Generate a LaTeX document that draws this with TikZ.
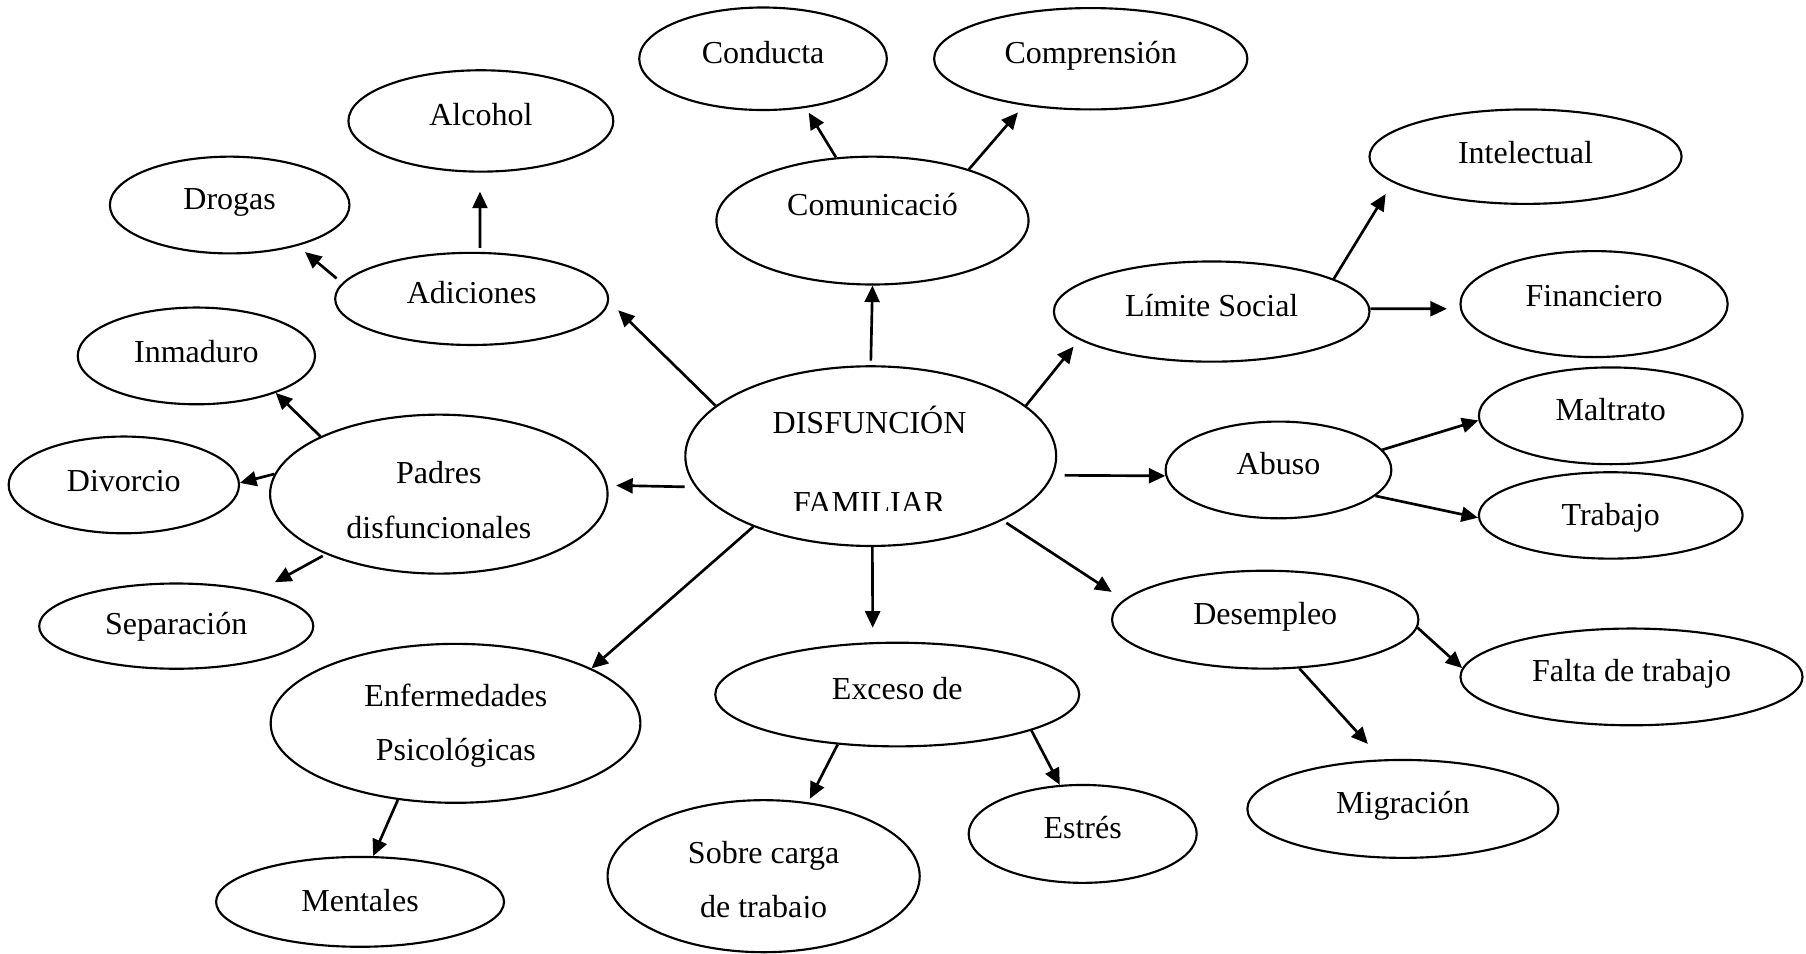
\documentclass[tikz,border=0pt]{standalone}
\usepackage{fontspec}
\setmainfont{Liberation Serif}
\usetikzlibrary{shapes.geometric,arrows.meta}

\begin{document}
\begin{tikzpicture}[x=0.432pt,y=-0.432pt,>={Triangle[length=6.2pt,width=5.6pt]},
  oval/.style 2 args={draw,ellipse,line width=0.8pt,inner sep=0pt,
    minimum width=#1*0.432pt,minimum height=#2*0.432pt,
    font=\fontsize{12}{14}\selectfont,text height=8.5pt,text depth=5pt},
  txt/.style={font=\fontsize{12}{14}\selectfont,inner sep=0pt,anchor=base},
  arr/.style={->,line width=1pt}]
  \useasboundingbox (0,0) rectangle (1568,828);

  % central node
  \node[oval={322}{156}] (disf) at (756,396) {};
  \node[txt] (disfa) at (755,376.2) {DISFUNCIÓN};
  \begin{scope}
    \clip (680,420) rectangle (835,442.8);
    \node[txt] (disfb) at (754.6,445.7) {FAMILIAR};
  \end{scope}

  % top
  \node[oval={215}{89}] (cond) at (662.5,51) {Conducta};
  \node[oval={272}{88}] (compr) at (947,51) {Comprensión};
  \node[oval={271}{111},text depth=12pt] (comu) at (757.5,191.5) {Comunicació};

  % left
  \node[oval={230}{88}] (alco) at (417.5,105) {Alcohol};
  \node[oval={208}{84}] (drog) at (199.4,178) {Drogas};
  \node[oval={237}{80}] (adic) at (409.5,259.5) {Adiciones};
  \node[oval={206}{84},text depth=3.5pt] (inma) at (170.5,309) {Inmaduro};
  \node[oval={200}{84},text depth=3.5pt] (divo) at (107.5,421) {Divorcio};
  \node[oval={293}{138}] (padr) at (381,429) {};
  \node[txt] (padra) at (381,419.5) {Padres};
  \node[txt] (padrb) at (381,467.5) {disfuncionales};
  \node[oval={238}{74},text depth=2.4pt] (sepa) at (153,543.6) {Separación};

  % right
  \node[oval={271}{82},text depth=3.5pt] (intel) at (1324.5,136) {Intelectual};
  \node[oval={274}{87}] (limi) at (1052,270.5) {Límite Social};
  \node[oval={232}{92},text depth=7pt] (finan) at (1384,264) {Financiero};
  \node[oval={196}{84}] (abus) at (1110,408) {Abuso};
  \node[oval={229}{84}] (maltr) at (1398.5,361) {Maltrato};
  \node[oval={229}{75},text depth=0.6pt] (trab) at (1398.5,447.5) {Trabajo};
  \node[oval={266}{85}] (desem) at (1098.5,538) {Desempleo};
  \node[oval={297}{84}] (falta) at (1416.5,587.7) {Falta de trabajo};
  \node[oval={270}{85}] (migr) at (1218,702.3) {Migración};

  % bottom
  \node[oval={321}{138}] (enfe) at (395.5,628) {};
  \node[txt] (enfea) at (395.8,613.8) {Enfermedades};
  \node[txt] (enfeb) at (395.8,660) {Psicológicas};
  \node[oval={250}{78},text depth=1.5pt] (ment) at (312.6,783) {Mentales};
  \node[oval={316}{90}] (exce) at (779,603) {Exceso de};
  \node[oval={271}{132}] (sobr) at (663,760.7) {};
  \node[txt] (sobra) at (663,749.5) {Sobre carga};
  \begin{scope}
    \clip (580,770) rectangle (750,797);
    \node[txt] (sobrb) at (663,797) {de trabajo};
  \end{scope}
  \node[oval={198}{85}] (estr) at (940,724) {Estrés};

  % arrows
  \draw[arr,shorten <=1.7pt] (disf.90) -- (comu.-90);
  \draw[arr,shorten >=2.1pt] (comu.120) -- (cond.-49);
  \draw[arr,shorten >=3.4pt] (comu.28) -- (compr.-145);
  \draw[arr,shorten >=4.8pt] (disf.162) -- (adic.-1);
  \draw[arr,shorten <=1.5pt,shorten >=7.1pt] (adic.80) -- (alco.-91);
  \draw[arr,shorten <=2.7pt,shorten >=3.6pt] (adic.173) -- (drog.-31);
  \draw[arr,shorten >=3.3pt] (disf.18) -- (limi.-168);
  \draw[arr,shorten >=5.1pt] (limi.15) -- (intel.-169);
  \draw[arr,shorten >=4.9pt] (limi.1) -- (finan.-178);
  \draw[arr,shorten <=4pt,shorten >=3.2pt] (disf.-170) -- (padr.3);
  \draw[arr] (padr.154) -- (inma.-25);
  \draw[arr] (padr.173) -- (divo.1);
  \draw[arr,shorten <=1.3pt,shorten >=6.9pt] (padr.-152) -- (sepa.23);
  \draw[arr,shorten <=4.3pt] (disf.-6) -- (abus.-177);
  \draw[arr] (abus.11) -- (maltr.-178);
  \draw[arr] (abus.-15) -- (trab.-179);
  \draw[arr,shorten <=1.7pt,shorten >=5.4pt] (disf.-26) -- (desem.172.5);
  \draw[arr] (desem.-3) -- (falta.177);
  \draw[arr,shorten >=7.8pt] (desem.-55) -- (migr.113);
  \draw[arr] (disf.-149) -- (enfe.22);
  \draw[arr,shorten >=5.4pt] (disf.-89) -- (exce.115.5);
  \draw[arr,shorten >=1.5pt] (exce.-140) -- (sobr.59);
  \draw[arr] (exce.-15) -- (estr.115);
  \draw[arr] (enfe.-127) -- (ment.74);
\end{tikzpicture}
\end{document}
